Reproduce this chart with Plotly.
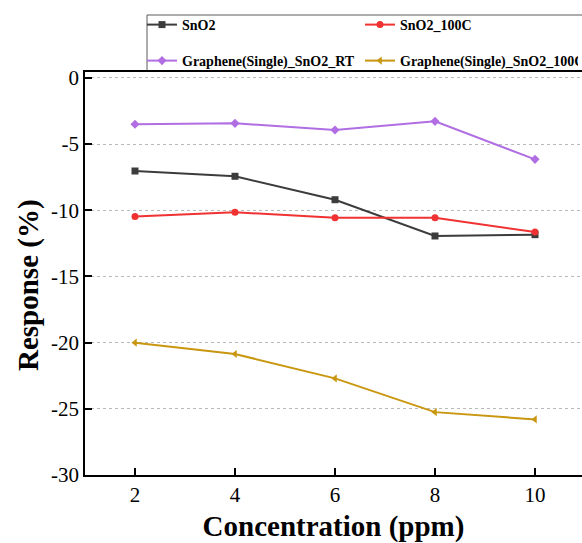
import plotly.graph_objects as go

# Gas response vs. concentration for four sensor types
concentration = [2, 4, 6, 8, 10]
sno2 = [-7.03, -7.43, -9.2, -11.94, -11.84]
sno2_100c = [-10.46, -10.15, -10.56, -10.56, -11.64]
graphene_rt = [-3.5, -3.43, -3.93, -3.28, -6.15]
graphene_100c = [-20.0, -20.86, -22.7, -25.25, -25.8]

x_ticks = [2, 4, 6, 8, 10]
y_ticks = [-30, -25, -20, -15, -10, -5, 0]
y_tick_labels = ["-30", "-25", "-20", "-15", "-10", "-5", "0"]

SERIF = "'Times New Roman', 'Liberation Serif', serif"

series = [
    ("SnO2", sno2, "rgb(60,60,60)", "square", "legend"),
    ("SnO2_100C", sno2_100c, "rgb(240,50,50)", "circle", "legend"),
    ("Graphene(Single)_SnO2_RT", graphene_rt, "rgb(176,110,226)", "diamond", "legend2"),
    ("Graphene(Single)_SnO2_100C", graphene_100c, "rgb(201,150,15)", "triangle-left", "legend2"),
]

fig = go.Figure()
for name, vals, color, symbol, leg in series:
    fig.add_trace(go.Scatter(
        x=concentration, y=vals, name="<b>" + name + "</b>", mode="lines+markers",
        line=dict(color=color, width=2),
        marker=dict(color=color, symbol=symbol, size=7),
        legend=leg,
    ))

W, H = 582, 543
ML, MR, MT, MB = 85, 0, 72, 68
pw, ph = W - ML - MR, H - MT - MB

def px_x(p):
    return (p - ML) / pw

def px_y(p):
    return (H - MB - p) / ph

legend_common = dict(
    orientation="h", xanchor="left", yanchor="middle",
    bgcolor="rgba(0,0,0,0)", borderwidth=0,
    font=dict(family=SERIF, size=14, color="black"),
    entrywidth=173, itemwidth=30,
)

fig.update_layout(
    width=W, height=H,
    margin=dict(l=ML, r=MR, t=MT, b=MB),
    paper_bgcolor="white", plot_bgcolor="white",
    font=dict(family=SERIF, color="black"),
    legend=dict(x=px_x(142), y=px_y(25), **legend_common),
    legend2=dict(x=px_x(142), y=px_y(61), **legend_common),
    xaxis=dict(
        range=[1, 10.94], tickvals=x_ticks, ticks="inside", ticklen=7,
        tickwidth=1.5, tickcolor="black", showline=True, linecolor="black",
        linewidth=1.5, mirror=True, showgrid=False, zeroline=False,
        tickfont=dict(family=SERIF, size=21, color="black"),
        title=dict(text="<b>Concentration (ppm)</b>", standoff=10,
                   font=dict(family=SERIF, size=29, color="black")),
    ),
    yaxis=dict(
        range=[-30, 0.45], tickvals=y_ticks, ticktext=y_tick_labels,
        ticks="inside", ticklen=7,
        tickwidth=1.5, tickcolor="black", showline=True, linecolor="black",
        linewidth=1.5, showgrid=True, gridcolor="rgb(185,185,185)",
        griddash="dot", gridwidth=1, zeroline=False,
        tickfont=dict(family=SERIF, size=21, color="black"),
    ),
    annotations=[dict(
        text="<b>Response (%)</b>", textangle=-90, showarrow=False,
        xref="paper", yref="paper", x=px_x(28), y=px_y(285),
        xanchor="center", yanchor="middle",
        font=dict(family=SERIF, size=29, color="black"),
    )],
    shapes=[dict(
        type="rect", xref="paper", yref="paper",
        x0=px_x(147), x1=px_x(600), y0=px_y(71), y1=px_y(15),
        line=dict(color="rgb(90,90,90)", width=1), fillcolor="rgba(0,0,0,0)",
        layer="below",
    )],
)

fig.write_html("out.html")
